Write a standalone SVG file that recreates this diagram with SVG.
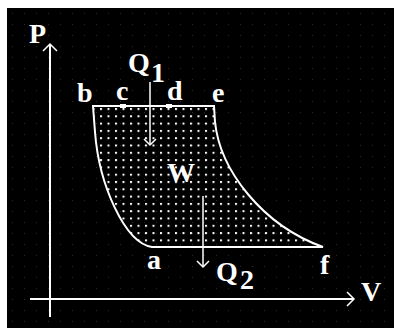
<svg xmlns="http://www.w3.org/2000/svg" width="394" height="328" viewBox="0 0 394 328">
<defs>
<style>
.lbl{font-family:"Liberation Serif","Times New Roman",serif;font-weight:bold;font-size:28px;fill:#fff}
.ln{stroke:#fff;stroke-width:2;fill:none}
.thin{stroke:#fff;stroke-width:1.5;fill:none}
</style>
<pattern id="dots" patternUnits="userSpaceOnUse" x="100" y="108" width="7.5" height="7.3">
<rect x="0" y="0" width="2" height="2" fill="#fff"/>
</pattern>
<pattern id="bg" patternUnits="userSpaceOnUse" x="7" y="8" width="12" height="11">
<rect x="5" y="5" width="1" height="1" fill="#2a2a2a"/>
</pattern>
</defs>
<rect x="0" y="0" width="394" height="328" fill="#fff"/>
<rect x="7" y="8" width="387" height="320" fill="#000"/>
<rect x="7" y="8" width="387" height="320" fill="url(#bg)"/>

<g id="cycle">
<path d="M93,106 L214,106 L215,122 C220,170 262,225 323,247 L152,247 C125,243 99,185 95,132 L93,106 Z" fill="url(#dots)" stroke="#fff" stroke-width="2"/>
<rect x="120" y="104" width="6" height="4" fill="#fff"/>
<rect x="166" y="104" width="6" height="4" fill="#fff"/>
</g>

<g id="connectors">
<line class="ln" x1="50" y1="317" x2="50" y2="44"/>
<polyline class="thin" points="43,51 50,44 57,51"/>
<line class="ln" x1="30" y1="299" x2="354" y2="299"/>
<polyline class="thin" points="347,292 354,299 347,306"/>
<line class="thin" x1="150" y1="82" x2="150" y2="145"/>
<polyline class="thin" points="144,139 150,145 156,139"/>
<line class="thin" x1="203" y1="196" x2="203" y2="267"/>
<polyline class="thin" points="197,261 203,267 209,261"/>
</g>

<g id="labels">
<text class="lbl" x="29" y="43">P</text>
<text class="lbl" x="361" y="301">V</text>
<text class="lbl" x="128" y="72">Q</text>
<text class="lbl" x="151" y="82">1</text>
<text class="lbl" x="77" y="102">b</text>
<text class="lbl" x="116" y="100">c</text>
<text class="lbl" x="167" y="100">d</text>
<text class="lbl" x="212" y="102">e</text>
<text class="lbl" x="167" y="182">W</text>
<text class="lbl" x="147" y="269">a</text>
<text class="lbl" x="216" y="281">Q</text>
<text class="lbl" x="240" y="289">2</text>
<text class="lbl" x="320" y="274">f</text>
</g>
</svg>
